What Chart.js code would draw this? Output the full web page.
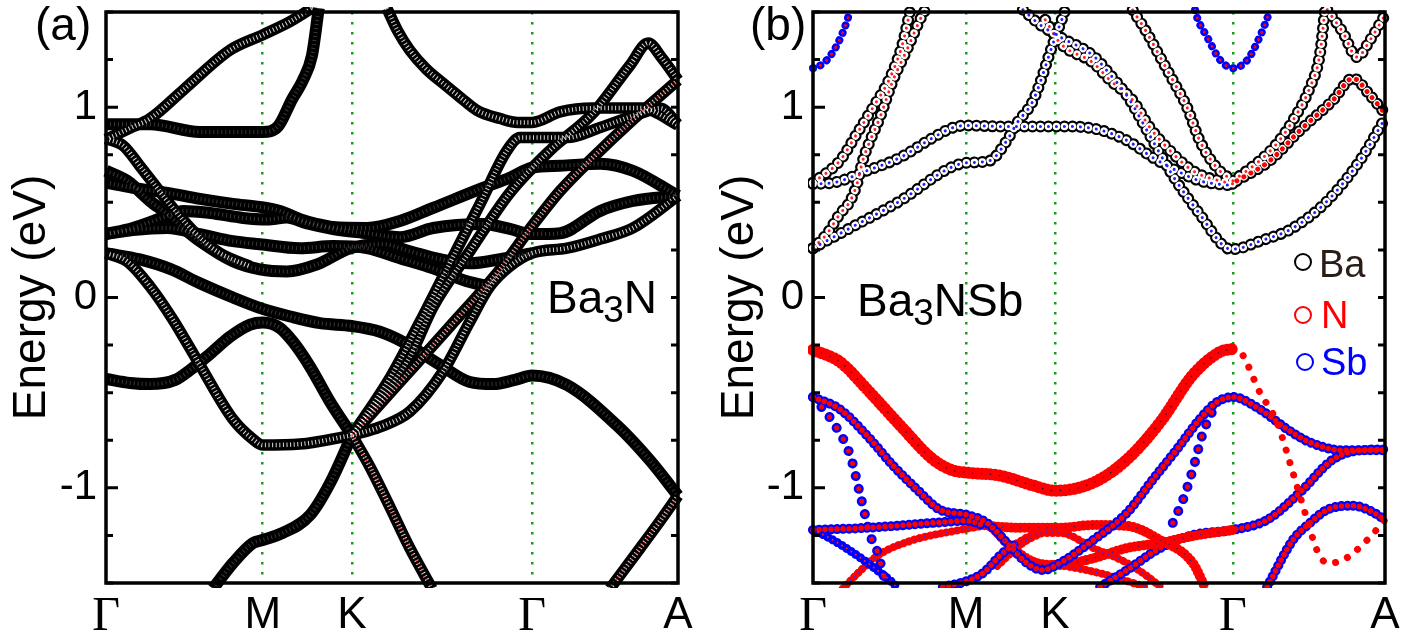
<!DOCTYPE html>
<html><head><meta charset="utf-8">
<script src="https://cdn.jsdelivr.net/npm/chart.js@4.4.1/dist/chart.umd.min.js"></script>
<style>
body{margin:0;background:#fff;width:1423px;height:635px;overflow:hidden;position:relative;font-family:'Liberation Sans',Arial,sans-serif;}
canvas{position:absolute;top:0;}
#ca{left:0;}
#cb{left:711px;}
.lbl{position:absolute;font-size:46px;line-height:46px;color:#000;white-space:nowrap;}
.lbl sub{font-size:37px;vertical-align:-9px;line-height:0;}
.legt{position:absolute;font-size:38px;line-height:38px;white-space:nowrap;}
.legc{position:absolute;width:18px;height:18px;box-sizing:border-box;border:2.5px solid;border-radius:50%;}
</style></head><body>
<canvas id="ca" width="711" height="635"></canvas>
<canvas id="cb" width="712" height="635"></canvas>
<div class="lbl" style="left:35px;top:1px">(a)</div>
<div class="lbl" style="left:750px;top:1px">(b)</div>
<div class="lbl" style="left:547px;top:274px">Ba<sub>3</sub>N</div>
<div class="lbl" style="left:857px;top:277px">Ba<sub>3</sub>NSb</div>
<div class="legc" style="left:1294px;top:253px;border-color:#000"></div>
<div class="legt" style="left:1319px;top:245px;color:#2a1c17">Ba</div>
<div class="legc" style="left:1294px;top:306px;border-color:#f00"></div>
<div class="legt" style="left:1321px;top:296px;color:#f00">N</div>
<div class="legc" style="left:1296px;top:353px;border-color:#00f"></div>
<div class="legt" style="left:1321px;top:343px;color:#00f">Sb</div>
<script>
// ---------- axes ----------
const kLabels = ['Γ','M','K','Γ','A'];
const kTicksA = [0, 0.274, 0.430, 0.745, 1];
const kTicksB = [0, 0.2675, 0.423, 0.734, 1];
const energyTicks = [-1.5,-1.25,-1,-0.75,-0.5,-0.25,0,0.25,0.5,0.75,1,1.25,1.5];
const energyLabels = {'-1':'-1','0':'0','1':'1'};

// ---------- panel (a) Ba3N bands: [k, E(eV)] ----------
const a1 = [[0,0.83],[0.042,0.89],[0.077,0.94],[0.135,1.09],[0.217,1.30],[0.274,1.38],[0.322,1.45],[0.36,1.52]];
const a2 = [[0,0.91],[0.077,0.91],[0.164,0.87],[0.274,0.87],[0.301,0.90],[0.325,1.04],[0.344,1.14],[0.36,1.27],[0.372,1.52]];
const a3 = [[0.491,1.52],[0.510,1.40],[0.531,1.30],[0.560,1.20],[0.589,1.126],[0.620,1.05],[0.649,0.983],[0.689,0.94],[0.720,0.92],[0.745,0.92],[0.794,0.975],[0.851,0.995],[0.939,0.995],[0.956,0.98],[1,0.905]];
const a4 = [[0.430,-0.724],[0.479,-0.539],[0.531,-0.312],[0.572,-0.048],[0.636,0.243],[0.706,0.55],[0.776,0.772],[0.851,0.967],[0.916,1.22],[0.948,1.337],[0.972,1.258],[1,1.142]];
const a5 = [[0.430,-0.724],[0.497,-0.42],[0.549,-0.127],[0.601,0.18],[0.654,0.492],[0.701,0.772],[0.724,0.84],[0.745,0.84],[0.806,0.84],[0.864,0.893],[0.934,0.967],[0.969,0.994],[1,0.909]];
const a6 = [[0.430,-0.724],[0.479,-0.68],[0.531,-0.60],[0.589,-0.39],[0.636,-0.127],[0.671,0.058],[0.706,0.164],[0.745,0.233],[0.806,0.259],[0.864,0.307],[0.921,0.365],[1,0.534]];
const a7 = [[0,-0.428],[0.042,-0.449],[0.077,-0.455],[0.121,-0.433],[0.147,-0.381],[0.182,-0.296],[0.217,-0.206],[0.252,-0.143],[0.274,-0.132],[0.304,-0.16],[0.327,-0.233],[0.357,-0.365],[0.392,-0.55],[0.430,-0.724]];
const a8 = [[0,0.233],[0.037,0.19],[0.077,0.058],[0.117,-0.116],[0.164,-0.354],[0.222,-0.64],[0.257,-0.745],[0.274,-0.775],[0.339,-0.77],[0.430,-0.724]];
const a9 = [[0,0.233],[0.059,0.2],[0.112,0.15],[0.164,0.075],[0.222,0.0],[0.274,-0.06],[0.322,-0.1],[0.374,-0.135],[0.430,-0.15],[0.479,-0.18],[0.519,-0.233],[0.584,-0.354],[0.636,-0.444],[0.677,-0.455],[0.715,-0.433],[0.745,-0.41],[0.806,-0.46],[0.893,-0.671],[0.951,-0.856],[1,-1.041]];
const a10 = [[0.430,-0.724],[0.462,-0.893],[0.497,-1.105],[0.531,-1.316],[0.570,-1.53]];
const a11 = [[0.187,-1.53],[0.222,-1.395],[0.257,-1.29],[0.274,-1.274],[0.309,-1.237],[0.357,-1.142],[0.392,-0.973],[0.430,-0.724]];
const a12 = [[0.881,-1.53],[0.934,-1.316],[0.969,-1.173],[1,-1.041]];
const a13 = [[0,0.603],[0.047,0.576],[0.107,0.55],[0.164,0.518],[0.222,0.492],[0.269,0.476],[0.304,0.455],[0.339,0.412],[0.369,0.386],[0.397,0.37],[0.456,0.365],[0.514,0.402],[0.572,0.471],[0.659,0.576],[0.706,0.629],[0.745,0.682],[0.794,0.692],[0.864,0.703],[0.921,0.666],[1,0.534]];
const a14 = [[0,0.333],[0.047,0.365],[0.107,0.428],[0.135,0.455],[0.182,0.444],[0.24,0.418],[0.282,0.41],[0.316,0.42],[0.35,0.39],[0.397,0.36],[0.456,0.338],[0.514,0.317],[0.572,0.365],[0.659,0.386],[0.706,0.36],[0.745,0.333],[0.794,0.338],[0.864,0.455],[0.921,0.507],[1,0.534]];
const a15 = [[0,0.333],[0.047,0.354],[0.107,0.365],[0.164,0.333],[0.222,0.296],[0.269,0.28],[0.339,0.259],[0.397,0.27],[0.456,0.259],[0.514,0.206],[0.572,0.153],[0.631,0.085],[0.671,0.058]];
const a16 = [[0.430,-0.724],[0.514,-0.444],[0.601,-0.153],[0.689,0.148],[0.741,0.36],[0.794,0.56],[0.851,0.735],[0.916,0.92],[1,1.142]];
const a17 = [[0,0.666],[0.037,0.613],[0.077,0.507],[0.107,0.439],[0.135,0.365],[0.164,0.296],[0.222,0.19],[0.269,0.148],[0.316,0.137],[0.369,0.174],[0.427,0.259],[0.484,0.28],[0.531,0.243],[0.584,0.201],[0.636,0.18],[0.689,0.201],[0.745,0.233]];
const a18 = [[0,0.835],[0.030,0.798],[0.059,0.692],[0.089,0.576],[0.121,0.455],[0.156,0.338],[0.199,0.233],[0.252,0.164]];

// ---------- panel (b) Ba3NSb bands ----------
const b1 = [[0,1.205],[0.007,1.21],[0.024,1.247],[0.042,1.327],[0.059,1.448],[0.065,1.51]];
const b2 = [[0.668,1.51],[0.671,1.475],[0.689,1.369],[0.712,1.247],[0.734,1.205],[0.759,1.247],[0.781,1.369],[0.795,1.475],[0.799,1.51]];
const b3 = [[0,0.603],[0.047,0.719],[0.077,0.862],[0.105,0.999],[0.135,1.157],[0.157,1.337],[0.170,1.51]];
const b4 = [[0,0.259],[0.024,0.333],[0.047,0.439],[0.065,0.507],[0.077,0.597],[0.087,0.719],[0.1,0.825],[0.117,0.946],[0.14,1.142],[0.164,1.3],[0.187,1.459],[0.196,1.51]];
const b5 = [[0,0.597],[0.035,0.603],[0.094,0.666],[0.152,0.735],[0.21,0.84],[0.245,0.893],[0.269,0.904],[0.327,0.899],[0.385,0.899],[0.432,0.899],[0.49,0.888],[0.549,0.825],[0.594,0.735],[0.636,0.666],[0.676,0.613],[0.734,0.587]];
const b6 = [[0,0.259],[0.065,0.365],[0.152,0.507],[0.24,0.682],[0.269,0.708],[0.309,0.719],[0.339,0.825],[0.356,0.914],[0.385,1.036],[0.42,1.337],[0.441,1.51]];
const b7 = [[0.367,1.512],[0.397,1.433],[0.432,1.369],[0.49,1.27],[0.52,1.17],[0.549,1.06],[0.589,0.85],[0.629,0.64],[0.676,0.439],[0.724,0.259],[0.734,0.254],[0.781,0.296],[0.839,0.365],[0.899,0.507],[0.956,0.719],[1,0.941]];
const b8 = [[0.406,1.459],[0.432,1.337],[0.49,1.232],[0.519,1.142],[0.559,1.036],[0.589,0.893],[0.619,0.788],[0.664,0.666],[0.724,0.603],[0.734,0.597]];
const b9 = [[0.559,1.51],[0.584,1.39],[0.607,1.263],[0.629,1.142],[0.654,0.999],[0.676,0.825],[0.706,0.682],[0.734,0.613]];
const b10 = [[0.734,0.613],[0.781,0.719],[0.811,0.809],[0.839,0.93],[0.869,1.105],[0.886,1.274],[0.895,1.51]];
const b11 = [[0.741,0.613],[0.799,0.719],[0.851,0.877],[0.909,1.036],[0.944,1.152],[0.974,1.062],[1,0.967]];
const b12 = [[0.899,1.512],[0.927,1.39],[0.951,1.263],[0.974,1.353],[1,1.485]];
const v1 = [[0,-0.275],[0.047,-0.338],[0.094,-0.481],[0.152,-0.671],[0.21,-0.851],[0.245,-0.909],[0.269,-0.92],[0.327,-0.936],[0.385,-0.988],[0.423,-1.015],[0.49,-0.973],[0.549,-0.851],[0.607,-0.655],[0.664,-0.407],[0.712,-0.285],[0.734,-0.27]];
const v1b = [[0.734,-0.27],[0.747,-0.285],[0.781,-0.497],[0.811,-0.655],[0.839,-0.92],[0.864,-1.168],[0.881,-1.327],[0.899,-1.395],[0.927,-1.379],[0.969,-1.274],[1,-1.168]];
const v2 = [[0,-0.523],[0.047,-0.587],[0.094,-0.724],[0.14,-0.883],[0.182,-1.009],[0.222,-1.115],[0.269,-1.142],[0.304,-1.184],[0.344,-1.305],[0.374,-1.395],[0.402,-1.432],[0.432,-1.395],[0.49,-1.274],[0.549,-1.131],[0.594,-0.957],[0.636,-0.798],[0.676,-0.64],[0.706,-0.55],[0.734,-0.523],[0.781,-0.587],[0.829,-0.692],[0.869,-0.761],[0.927,-0.803],[1,-0.803]];
const v3 = [[0,-0.523],[0.035,-0.655],[0.065,-0.83],[0.082,-1.03],[0.094,-1.18],[0.1,-1.25],[0.112,-1.33],[0.12,-1.42],[0.129,-1.52]];
const v3b = [[0.629,-1.184],[0.647,-1.062],[0.664,-0.904],[0.682,-0.709],[0.706,-0.55]];
const v4a = [[0,-1.221],[0.094,-1.21],[0.21,-1.184],[0.269,-1.173],[0.297,-1.195]];
const v4b = [[0.269,-1.173],[0.297,-1.195],[0.385,-1.21],[0.432,-1.21],[0.49,-1.195],[0.549,-1.2],[0.607,-1.274],[0.664,-1.395],[0.685,-1.52]];
const v5 = [[0,-1.221],[0.012,-1.237],[0.052,-1.305],[0.112,-1.432],[0.14,-1.501],[0.149,-1.53]];
const v6 = [[0.052,-1.53],[0.082,-1.438],[0.112,-1.358],[0.17,-1.279],[0.257,-1.221],[0.297,-1.2]];
const v7 = [[0.269,-1.16],[0.309,-1.2],[0.344,-1.305],[0.391,-1.395],[0.426,-1.406],[0.49,-1.37],[0.549,-1.316],[0.607,-1.29],[0.664,-1.253],[0.734,-1.221]];
const v8 = [[0.502,-1.52],[0.549,-1.432],[0.607,-1.316],[0.664,-1.248],[0.734,-1.221],[0.794,-1.168],[0.851,-1.025],[0.909,-0.851],[0.956,-0.803],[1,-0.798]];
const v9 = [[0.794,-1.52],[0.839,-1.274],[0.869,-1.184],[0.899,-1.115],[0.944,-1.094],[0.974,-1.12],[1,-1.168]];
const v12a = [[0.227,-1.52],[0.269,-1.49],[0.297,-1.448],[0.332,-1.342],[0.357,-1.29]];
const v12b = [[0.332,-1.342],[0.357,-1.29],[0.397,-1.237],[0.432,-1.237],[0.49,-1.316],[0.549,-1.395],[0.589,-1.475],[0.607,-1.52]];
const v13 = [[0.322,-1.41],[0.367,-1.29],[0.42,-1.21]];
const v14 = [[0.42,-1.4],[0.49,-1.44],[0.549,-1.49],[0.58,-1.52]];

// ---------- styles ----------
const dot = (c, w, gap, o) => ({c, w, d:[0.01, gap], cap:'round', o});
const ST = {
  aSolid: [{c:'#000', w:12, o:30}, {c:'rgba(255,255,255,0.22)', w:4, d:[1,3], o:20}],
  aHatch: [{c:'#000', w:11.5, o:30}, {c:'rgba(255,255,255,0.85)', w:4.5, d:[1,2.6], o:20}],
  aRed:   [{c:'#000', w:11.5, o:30}, {c:'rgba(255,255,255,0.85)', w:4.5, d:[1,2.6], o:20}, {c:'#ff3030', w:1.6, d:[1,2.6], o:10}],
  ringR:  [dot('#000',12,8,30), dot('#fff',7.5,8,20), dot('#ff2020',3,8,10)],
  ringB:  [dot('#000',12,8,30), dot('#fff',7.5,8,20), dot('#2020ff',3,8,10)],
  ringRR: [dot('#000',12,8,30), dot('#fff',7.5,8,20), dot('#ff0000',5,8,10)],
  blueSm: [dot('#0000ff',8,8,30), dot('#ff0000',3,8,10)],
  redThick:[dot('#ff0000',12,4.5,30), dot('#200060',1.5,9,10)],
  redBand:[dot('#ff0000',10,4.5,30), dot('#2020a0',1.4,9,10)],
  redSparse:[dot('#ff0000',7,13,30)],
  blueRing:[dot('#0000ff',10,6,30), dot('#ff0000',5.5,6,20)],
  blueBig:[dot('#0000ff',10,13,30), dot('#ff0000',5,13,20)],
  redRing:[dot('#ff0000',8,5.5,30), dot('#3030ff',1.6,5.5,10)],
  blueThin:[dot('#0000ff',9,5.5,30), dot('#ff2020',2,5.5,10)]
};
const bandsA = [a1,a2,a3,a4,a5,a6,a7,a8,a9,a10,a11,a12,a13,a14,a15,a16,a17,a18];
const stylesA = ['aHatch','aSolid','aHatch','aHatch','aHatch','aHatch','aSolid','aHatch','aSolid','aRed','aSolid','aRed','aSolid','aSolid','aSolid','aRed','aSolid','aHatch'];
const bandsB = [b1,b2,b3,b4,b5,b6,b7,b8,b9,b10,b11,b12,v1,v1b,v2,v3,v3b,v4a,v4b,v5,v6,v7,v8,v9,v12a,v12b,v13,v14];
const stylesB = ['blueSm','blueSm','ringR','ringR','ringB','ringB','ringB','ringR','ringR','ringR','ringRR','ringR','redThick','redSparse','blueRing','blueBig','blueBig','blueRing','redBand','blueThin','redRing','redBand','blueRing','blueRing','blueRing','redRing','redRing','redRing'];

const frame = {
  id:'frame',
  afterDatasetsDraw(chart){
    const {ctx, chartArea:a} = chart; const y = chart.scales.y;
    ctx.save(); ctx.strokeStyle='#000'; ctx.lineWidth=3; ctx.beginPath();
    energyTicks.forEach(v=>{
      const py = y.getPixelForValue(v); const major = Number.isInteger(v);
      ctx.moveTo(a.left, py); ctx.lineTo(a.left + (major?12:7), py);
      ctx.moveTo(a.right, py); ctx.lineTo(a.right - 7, py);
    });
    ctx.stroke();
    ctx.lineWidth=3.5; ctx.strokeRect(a.left, a.top, a.right-a.left, a.bottom-a.top);
    ctx.restore();
  }
};

function makeChart(id, bands, styles, kt, axisW, padR, titlePad){
  const datasets = [];
  bands.forEach((pts, i) => {
    ST[styles[i]].forEach(L => datasets.push({
      data: pts.map(p => ({x:p[0], y:p[1]})),
      borderColor: L.c, borderWidth: L.w, borderDash: L.d || [], borderCapStyle: L.cap || 'butt',
      order: L.o, pointRadius: 0, pointHoverRadius: 0, fill: false,
      cubicInterpolationMode: 'monotone', clip: 5
    }));
  });
  return new Chart(document.getElementById(id), {
    type: 'line',
    data: { datasets },
    plugins: [frame],
    options: {
      responsive: false, animation: false, devicePixelRatio: 1,
      layout: { padding: { left: 0, right: padR, top: 12, bottom: 0 } },
      plugins: { legend: {display:false}, tooltip: {enabled:false} },
      events: [],
      scales: {
        x: {
          type: 'linear', min: 0, max: 1,
          afterBuildTicks: s => { s.ticks = kt.map(v => ({value:v})); },
          afterFit: s => { s.height = 52; s.paddingLeft = 0; s.paddingRight = 0; },
          ticks: { autoSkip:false, maxRotation:0, minRotation:0, padding:6, color:'#000',
            font: c => (c.index===0 || c.index===3) ? {family:'Liberation Serif', size:48} : {family:'Liberation Sans', size:44},
            callback: (v, i) => kLabels[i] },
          grid: { drawOnChartArea:true, drawTicks:false, lineWidth:2.5,
            color: c => (c.index===0 || c.index===4) ? 'rgba(0,0,0,0)' : '#1a9a1a' },
          border: { display:false, dash:[2.5,7.5] }
        },
        y: {
          type: 'linear', min: -1.5, max: 1.5,
          afterBuildTicks: s => { s.ticks = energyTicks.map(v => ({value:v})); },
          afterFit: s => { s.width = axisW; s.paddingTop = 0; s.paddingBottom = 0; },
          ticks: { autoSkip:false, padding: 9, color:'#000', font:{family:'Liberation Sans', size:42},
            callback: v => energyLabels[String(v)] || '' },
          grid: { drawOnChartArea:false, drawTicks:false, color:'rgba(0,0,0,0)' },
          border: { display:false },
          title: { display:true, text:'Energy (eV)', color:'#000', font:{family:'Liberation Sans', size:46}, padding:{top:titlePad, bottom:0} }
        }
      }
    }
  });
}
makeChart('ca', bandsA, stylesA, kTicksA, 106, 33, 5);
makeChart('cb', bandsB, stylesB, kTicksB, 102, 38, 2);
</script>
</body></html>
